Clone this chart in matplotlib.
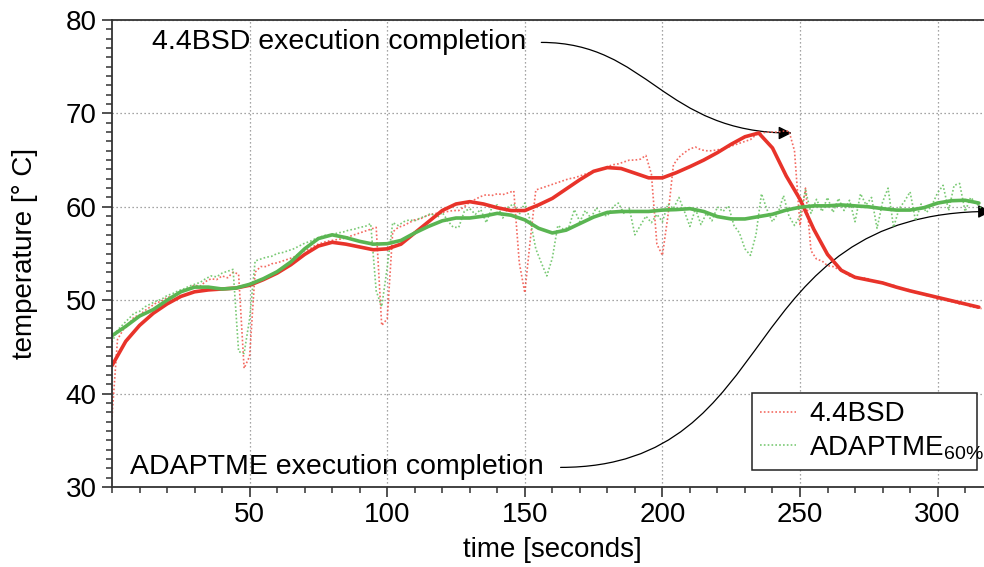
import numpy as np
import matplotlib
matplotlib.use("Agg")
import matplotlib.pyplot as plt
from matplotlib.path import Path
from matplotlib.patches import FancyArrowPatch
from matplotlib.ticker import MultipleLocator, FixedLocator

plt.rcParams['font.family'] = ['Liberation Sans', 'DejaVu Sans']
plt.rcParams['mathtext.fontset'] = 'custom'
plt.rcParams['mathtext.rm'] = 'Liberation Sans'
plt.rcParams['mathtext.it'] = 'Liberation Sans:italic'

# ---------------- data ----------------
raw_step = 2  # seconds between raw samples
bsd_raw = [
    37.5, 45.8, 46.8, 47.4, 48.2, 48.4, 48.9, 49.3, 49.7, 49.9,   # 0-18
    50.3, 50.4, 50.8, 51.0, 51.3, 51.6, 51.5, 52.0, 52.3, 52.2,   # 20-38
    52.6, 52.4, 53.0, 52.8, 42.7, 44.0, 53.0, 53.6, 53.6, 53.9,   # 40-58
    54.0, 54.2, 54.4, 54.6, 55.0, 55.3, 55.5, 55.9, 56.1, 56.3,   # 60-78
    56.4, 56.5, 56.6, 56.8, 57.0, 57.2, 57.4, 57.6, 57.8, 47.3,   # 80-98
    48.0, 57.3, 57.8, 58.0, 58.3, 58.6, 58.7, 59.0, 59.2, 59.3,   # 100-118
    59.4, 59.5, 59.6, 59.6, 60.0, 60.5, 60.8, 61.1, 61.3, 61.2,   # 120-138
    61.4, 61.3, 61.5, 61.7, 54.0, 50.8, 56.5, 61.8, 62.0, 62.2,   # 140-158
    62.4, 62.6, 62.8, 63.0, 63.1, 63.3, 63.5, 63.7, 63.9, 64.0,   # 160-178
    64.3, 64.5, 64.6, 64.8, 65.0, 65.0, 65.1, 65.5, 63.5, 56.0,   # 180-198
    54.8, 59.0, 64.5, 65.3, 65.8, 66.2, 66.4, 66.1, 66.0, 66.0,   # 200-218
    66.1, 66.2, 66.4, 66.6, 66.8, 67.0, 67.2, 67.7, 67.9, 68.0,   # 220-238
    68.0, 68.0, 68.1, 68.1, 66.0, 58.0, 62.0, 55.3, 54.4, 54.2,   # 240-258
    53.7, 53.6, 53.3, 53.0, 52.6, 52.5, 52.3, 52.4, 52.1, 52.0,   # 260-278
    51.9, 51.7, 51.6, 51.3, 51.2, 51.1, 50.8, 50.7, 50.5, 50.4,   # 280-298
    50.1, 50.2, 49.9, 49.8, 49.6, 49.6, 49.3, 49.2, 49.1,         # 300-316
]
adapt_raw = [
    45.5, 46.8, 47.4, 48.0, 48.6, 48.8, 49.3, 49.6, 49.9, 50.1,   # 0-18
    50.5, 50.7, 51.0, 51.2, 51.5, 51.7, 51.9, 52.3, 52.6, 52.5,   # 20-38
    52.9, 53.1, 53.3, 44.5, 44.3, 48.0, 54.2, 54.4, 54.6, 54.7,   # 40-58
    55.0, 55.1, 55.3, 55.5, 55.8, 56.1, 56.3, 56.6, 56.8, 57.0,   # 60-78
    57.0, 57.2, 57.3, 57.5, 57.6, 57.8, 57.9, 58.2, 51.0, 49.3,   # 80-98
    53.5, 58.3, 58.0, 58.4, 58.6, 58.5, 58.8, 59.0, 59.3, 58.8,   # 100-118
    59.4, 58.5, 57.8, 57.8, 59.5, 59.8, 59.2, 59.7, 58.3, 59.9,   # 120-138
    60.2, 58.8, 60.0, 60.3, 59.2, 60.4, 58.5, 55.5, 54.0, 52.6,   # 140-158
    54.5, 58.0, 57.6, 57.8, 59.7, 58.4, 59.6, 58.8, 59.9, 59.2,   # 160-178
    59.0, 60.0, 60.4, 59.3, 59.8, 57.0, 58.0, 59.0, 58.3, 59.2,   # 180-198
    58.4, 60.3, 59.8, 61.0, 59.5, 57.9, 59.8, 58.1, 59.3, 58.5,   # 200-218
    60.0, 59.5, 60.1, 58.0, 57.2, 55.5, 54.8, 57.0, 61.4, 59.7,   # 220-238
    58.4, 59.3, 61.2, 59.0, 58.0, 59.0, 61.8, 59.3, 60.8, 59.5,   # 240-258
    61.0, 59.4, 60.9, 59.6, 60.7, 58.4, 61.4, 60.2, 61.0, 57.7,   # 260-278
    60.5, 62.0, 57.8, 59.8, 60.6, 61.6, 58.5, 60.3, 59.4, 60.2,   # 280-298
    61.5, 62.3, 59.6, 62.3, 62.5, 59.5, 61.0, 60.4, 59.8,         # 300-316
]
smooth_step = 5  # seconds between smoothed samples
bsd_smooth = [
    43.0, 45.6, 47.3, 48.6, 49.6, 50.4, 50.9, 51.1, 51.2, 51.3,   # 0-45
    51.6, 52.2, 52.9, 53.8, 54.9, 55.8, 56.2, 56.0, 55.7, 55.4,   # 50-95
    55.5, 56.0, 57.2, 58.4, 59.6, 60.3, 60.55, 60.3, 59.9, 59.6,  # 100-145
    59.6, 60.2, 60.9, 61.9, 62.9, 63.8, 64.2, 64.1, 63.6, 63.1,   # 150-195
    63.1, 63.65, 64.3, 65.0, 65.8, 66.7, 67.5, 67.9, 66.3, 63.3,  # 200-245
    60.8, 57.6, 54.9, 53.2, 52.45, 52.15, 51.85, 51.4, 51.0, 50.65,  # 250-295
    50.3, 49.95, 49.6, 49.25,                                     # 300-315
]
adapt_smooth = [
    46.2, 47.2, 48.3, 49.0, 50.0, 50.9, 51.4, 51.4, 51.2, 51.3,   # 0-45
    51.7, 52.3, 53.05, 54.1, 55.5, 56.6, 57.0, 56.7, 56.3, 56.0,  # 50-95
    56.05, 56.4, 57.2, 57.9, 58.5, 58.8, 58.8, 59.0, 59.3, 59.1,  # 100-145
    58.6, 57.7, 57.2, 57.5, 58.2, 58.9, 59.4, 59.5, 59.5, 59.5,   # 150-195
    59.65, 59.7, 59.8, 59.5, 58.95, 58.7, 58.7, 58.95, 59.2, 59.65,  # 200-245
    59.95, 60.1, 60.1, 60.2, 60.1, 60.0, 59.8, 59.65, 59.65, 59.9,   # 250-295
    60.4, 60.65, 60.7, 60.4,                                      # 300-315
]
legend_labels = ["4.4BSD", r"ADAPTME$_{\mathregular{60\%}}$"]
xticks_major = [50, 100, 150, 200, 250, 300]
yticks_major = [30, 40, 50, 60, 70, 80]
note_top = "4.4BSD execution completion"
note_bottom = "ADAPTME execution completion"

t_raw = np.arange(len(bsd_raw)) * raw_step
t_smooth = np.arange(len(bsd_smooth)) * smooth_step

# ---------------- figure ----------------
W, H = 984, 567
fig = plt.figure(figsize=(W / 100, H / 100), dpi=100)
x0, x1 = 0, 320
px_per_s = 2.752
ax = fig.add_axes([112 / W, 80 / H, (x1 - x0) * px_per_s / W, 467 / H])

red_raw_c = '#f25a50'
grn_raw_c = '#6cc466'
red_c = '#e8332a'
grn_c = '#5ab552'

l1, = ax.plot(t_raw, bsd_raw, color=red_raw_c, lw=1.2, ls=(0, (1, 1.3)), alpha=0.9)
l2, = ax.plot(t_raw, adapt_raw, color=grn_raw_c, lw=1.2, ls=(0, (1, 1.3)), alpha=0.9)
ax.plot(t_smooth, bsd_smooth, color=red_c, lw=2.6, solid_capstyle='round',
        solid_joinstyle='round')
ax.plot(t_smooth, adapt_smooth, color=grn_c, lw=2.6, solid_capstyle='round',
        solid_joinstyle='round')

ax.set_xlim(x0, x1)
ax.set_ylim(30, 80)
ax.xaxis.set_major_locator(FixedLocator(xticks_major))
ax.xaxis.set_minor_locator(MultipleLocator(10))
ax.yaxis.set_major_locator(FixedLocator(yticks_major))
ax.yaxis.set_minor_locator(MultipleLocator(1))

spine_c = '#333333'
for s in ['left', 'bottom', 'top']:
    ax.spines[s].set_color(spine_c)
    ax.spines[s].set_linewidth(1.3)
ax.spines['right'].set_visible(False)

ax.grid(True, which='major', color='#888888', lw=0.9, ls=(0, (1, 2.2)))
ax.set_axisbelow(True)
ax.tick_params(axis='both', which='major', direction='out', length=7, width=1.2,
               color=spine_c, labelsize=20, pad=4,
               bottom=True, left=True, top=False, right=False)
ax.tick_params(axis='both', which='minor', direction='out', length=4.5, width=1.1,
               color=spine_c, bottom=True, left=True, top=False, right=False)

ax.set_xlabel("time [seconds]", fontsize=20, labelpad=6)
ax.set_ylabel("temperature [° C]", fontsize=20, labelpad=20)

# ---------------- annotations ----------------
ax.text(14.4, 77.6, note_top, fontsize=20.5, ha='left', va='center')
ax.text(6.5, 32.1, note_bottom, fontsize=20.5, ha='left', va='center')

p_top = Path([(156, 77.6), (195, 77.6), (200, 67.9), (247, 67.9)],
             [Path.MOVETO, Path.CURVE4, Path.CURVE4, Path.CURVE4])
a1 = FancyArrowPatch(path=p_top, arrowstyle='-|>,head_length=0.4,head_width=0.2',
                     mutation_scale=20, color='black', lw=0.9,
                     transform=ax.transData)
ax.add_patch(a1)
p_bot = Path([(163, 32.1), (245, 32.1), (225, 59.5), (319.5, 59.5)],
             [Path.MOVETO, Path.CURVE4, Path.CURVE4, Path.CURVE4])
a2 = FancyArrowPatch(path=p_bot, arrowstyle='-|>,head_length=0.4,head_width=0.2',
                     mutation_scale=20, color='black', lw=0.9,
                     transform=ax.transData)
ax.add_patch(a2)

# ---------------- legend ----------------
leg = ax.legend([l1, l2], legend_labels, loc='lower left',
                bbox_to_anchor=(0.7268, 0.0364, 0.2555, 0.1649), mode='expand',
                borderaxespad=0, fontsize=20, frameon=True, fancybox=False,
                edgecolor='#222222', framealpha=1, handlelength=1.3,
                handletextpad=0.45, labelspacing=0.25, borderpad=0.3)
leg.get_frame().set_linewidth(1.1)
for txt in leg.get_texts():
    txt.set_clip_path(leg.get_frame())

fig.savefig("out.png", dpi=100)
